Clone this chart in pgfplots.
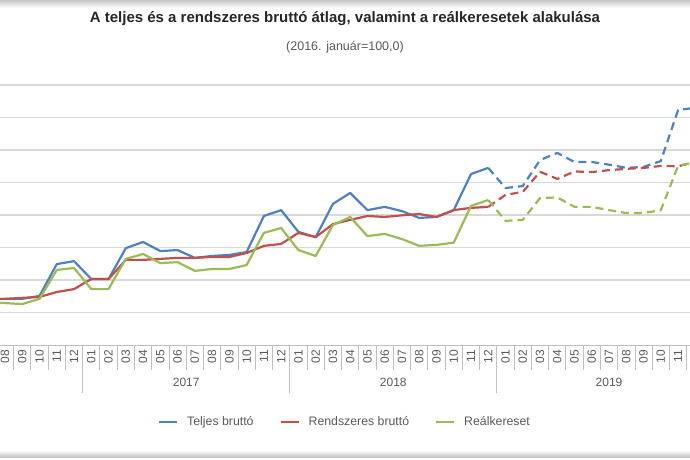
\documentclass[border=0pt]{standalone}
\usepackage{pgfplots}
\pgfplotsset{compat=1.18}
\usepackage{pgfplotstable}
\usetikzlibrary{calc}
\usepackage{fontspec}
\setmainfont{Liberation Sans}
\definecolor{cblue}{HTML}{4F81BD}
\definecolor{cred}{HTML}{C0504D}
\definecolor{cgreen}{HTML}{9BBB59}
\definecolor{cgrid}{HTML}{D9D9D9}
\definecolor{caxis}{HTML}{BFBFBF}
\definecolor{ctext}{HTML}{595959}
\definecolor{ctitle}{HTML}{262626}

% x index: 0 = 2016-08
\pgfplotstableread{
x   teljes rendszeres real
-1  104.2  104.2  102.9
0   104.2  104.2  102.9
1   104.2  104.5  102.6
2   105.1  104.8  104.2
3   114.9  106.3  113.1
4   115.8  107.2  113.7
5   110.3  110.3  107.2
6   110.3  110.3  107.2
7   119.8  116.2  116.5
8   121.7  116.2  118.0
9   118.9  116.5  115.2
10  119.2  116.8  115.5
11  116.8  116.8  112.8
12  117.4  117.1  113.4
13  117.7  117.1  113.4
14  118.6  118.3  114.6
15  129.7  120.5  124.5
16  131.5  121.1  126.0
17  124.8  124.5  119.2
18  123.2  123.2  117.4
19  133.4  127.2  126.9
20  136.8  128.5  129.4
21  131.5  129.7  123.5
22  132.5  129.4  124.2
23  131.2  129.9  122.6
24  129.1  130.3  120.5
25  129.4  129.4  120.8
26  131.5  131.5  121.5
27  142.6  132.2  132.8
28  144.5  132.5  134.6
}\solid

\pgfplotstableread{
x   teljes rendszeres real
28  144.5  132.5  134.6
29  138.3  136.2  128.2
30  138.9  137.1  128.5
31  146.9  143.3  135.2
32  149.1  141.1  135.4
33  146.3  143.4  132.5
34  146.3  143.2  132.5
35  145.5  143.8  131.5
36  144.5  144.2  130.6
37  144.8  144.5  130.6
38  146.6  145.1  131.5
39  162.3  145.0  145.1
40  163.0  146.3  146.3
}\dashed

\begin{document}
\begin{tikzpicture}[x=1pt,y=1pt]
\begin{axis}[
  name=ax,
  scale only axis, width=690pt, height=260pt,
  xmin=-0.29, xmax=39.69, ymin=90, ymax=170,
  clip=true, clip mode=individual,
  axis x line*=bottom, axis y line*=left,
  y axis line style={draw=none},
  x axis line style={color=caxis, line width=1pt, -},
  ytick={100,110,...,170}, yticklabels={},
  ymajorgrids, grid style={color=cgrid, line width=1.1pt},
  major tick length=0pt,
  xtick={0,...,39},
  xticklabels={08,09,10,11,12,01,02,03,04,05,06,07,08,09,10,11,12,01,02,03,04,05,06,07,08,09,10,11,12,01,02,03,04,05,06,07,08,09,10,11},
  xticklabel style={rotate=90, anchor=east, font=\fontsize{12}{14}\selectfont, text=ctext, inner sep=0pt},
  xticklabel shift=5pt,
  extra x ticks={-0.5,0.5,...,39.5},
  extra x tick labels={},
  extra x tick style={grid=none, major tick length=25pt, tick align=outside, major tick style={draw=caxis, line width=0.9pt}},
  legend style={at={(0.5,-0.296)}, anchor=center, draw=none, fill=none,
    font=\fontsize{12.3}{14}\selectfont, text=ctext, legend columns=3,
    /tikz/every even column/.append style={column sep=24pt}},
  legend image code/.code={\draw[#1, line width=2pt] (0pt,0pt) -- (18pt,0pt); \path (25pt,0pt);},
  every axis plot/.append style={line width=2.2pt, line join=round},
]
\addplot[cblue, no marks] table[x=x, y=teljes] {\solid};
\addlegendentry{Teljes bruttó}
\addplot[cred, no marks] table[x=x, y=rendszeres] {\solid};
\addlegendentry{Rendszeres bruttó}
\addplot[cgreen, no marks] table[x=x, y=real] {\solid};
\addlegendentry{Reálkereset}
\addplot[cblue, no marks, dash pattern=on 8pt off 5pt, forget plot] table[x=x, y=teljes] {\dashed};
\addplot[cred, no marks, dash pattern=on 8pt off 5pt, forget plot] table[x=x, y=rendszeres] {\dashed};
\addplot[cgreen, no marks, dash pattern=on 8pt off 5pt, forget plot] table[x=x, y=real] {\dashed};

\coordinate (O) at (rel axis cs:0,0);
\draw[caxis, line width=0.9pt] (axis cs:4.5,90) -- ([yshift=-48pt]axis cs:4.5,90);
\draw[caxis, line width=0.9pt] (axis cs:16.5,90) -- ([yshift=-48pt]axis cs:16.5,90);
\draw[caxis, line width=0.9pt] (axis cs:28.5,90) -- ([yshift=-48pt]axis cs:28.5,90);
\node[font=\fontsize{12}{14}\selectfont, text=ctext] at ([yshift=-37pt]axis cs:10.5,90) {2017};
\node[font=\fontsize{12}{14}\selectfont, text=ctext] at ([yshift=-37pt]axis cs:22.5,90) {2018};
\node[font=\fontsize{12}{14}\selectfont, text=ctext] at ([yshift=-37pt]axis cs:35,90) {2019};
\end{axis}
\pgfresetboundingbox
\useasboundingbox ($(O)+(0,-115)$) rectangle ($(O)+(690,345)$);
\shade[top color=gray!45, bottom color=white] ($(O)+(0,337)$) rectangle ($(O)+(690,345)$);
\shade[top color=white, bottom color=gray!45] ($(O)+(0,-112)$) rectangle ($(O)+(690,-105)$);
\node[font=\bfseries\fontsize{15}{18}\selectfont, text=ctitle] at ($(O)+(345,326)$) {A teljes és a rendszeres bruttó átlag, valamint a reálkeresetek alakulása};
\node[font=\fontsize{12.5}{15}\selectfont, text=ctext] at ($(O)+(345,298)$) {(2016. január=100,0)};
\end{tikzpicture}
\end{document}
